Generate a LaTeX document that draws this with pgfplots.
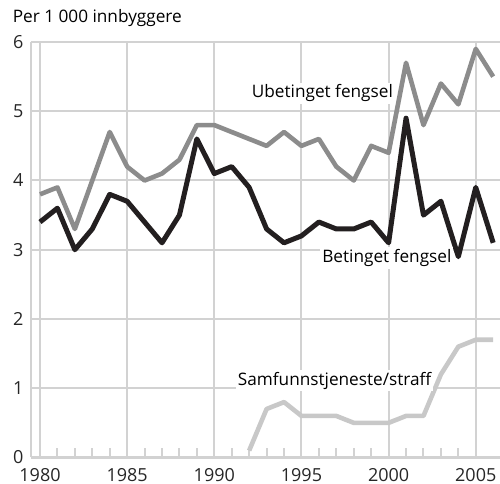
\documentclass[border=0pt]{standalone}
\usepackage{pgfplots}
\pgfplotsset{compat=1.18}
\usepackage{fontspec}
\setmainfont{Open Sans}
\definecolor{ubet}{HTML}{8C8C8C}
\definecolor{bet}{HTML}{231F20}
\definecolor{sam}{HTML}{C8C8C8}
\definecolor{gridc}{HTML}{D2D2D2}
\begin{document}
\fontsize{8.6}{10}\selectfont
\begin{tikzpicture}
\begin{axis}[
  scale only axis,
  width=234.5pt, height=207.75pt,
  xmin=1979.484, xmax=2006.39,
  ymin=0, ymax=6,
  axis x line*=bottom, axis y line*=left,
  axis line style={gridc, line width=1.2pt, -},
  xtick={1980,1985,1990,1995,2000,2005},
  ytick={0,1,2,3,4,5,6},
  minor x tick num=4,
  xmajorgrids, ymajorgrids,
  major grid style={gridc, line width=1pt},
  tick align=inside,
  major tick length=0pt,
  minor tick length=4.5pt,
  minor tick style={gridc, line width=1pt},
  xticklabel style={anchor=north, inner sep=0pt, yshift=-5.3pt},
  yticklabel style={anchor=east, inner sep=0pt, xshift=-3.6pt},
  /pgf/number format/assume math mode=true,
  /pgf/number format/1000 sep={},
  tick label style={font=\fontsize{9}{10}\selectfont, text=black!85},
  clip=false,
]
\addplot[ubet, line width=2.3pt, line join=round] coordinates {
(1980,3.8)(1981,3.9)(1982,3.3)(1983,4.0)(1984,4.7)(1985,4.2)(1986,4.0)(1987,4.1)(1988,4.3)(1989,4.8)(1990,4.8)(1991,4.7)(1992,4.6)(1993,4.5)(1994,4.7)(1995,4.5)(1996,4.6)(1997,4.2)(1998,4.0)(1999,4.5)(2000,4.4)(2001,5.7)(2002,4.8)(2003,5.4)(2004,5.1)(2005,5.9)(2006,5.5)};
\addplot[bet, line width=2.5pt, line join=round] coordinates {
(1980,3.4)(1981,3.6)(1982,3.0)(1983,3.3)(1984,3.8)(1985,3.7)(1986,3.4)(1987,3.1)(1988,3.5)(1989,4.6)(1990,4.1)(1991,4.2)(1992,3.9)(1993,3.3)(1994,3.1)(1995,3.2)(1996,3.4)(1997,3.3)(1998,3.3)(1999,3.4)(2000,3.1)(2001,4.9)(2002,3.5)(2003,3.7)(2004,2.9)(2005,3.9)(2006,3.1)};
\addplot[sam, line width=2.3pt, line join=round] coordinates {
(1992,0.1)(1993,0.7)(1994,0.8)(1995,0.6)(1996,0.6)(1997,0.6)(1998,0.5)(1999,0.5)(2000,0.5)(2001,0.6)(2002,0.6)(2003,1.2)(2004,1.6)(2005,1.7)(2006,1.7)};
\node[fill=white, inner sep=1pt] at (axis cs:1996.2,5.26) {Ubetinget fengsel};
\node[fill=white, inner sep=1pt] at (axis cs:1999.9,2.88) {Betinget fengsel};
\node[fill=white, inner sep=1pt] at (axis cs:1996.9,1.11) {Samfunnstjeneste/straff};
\node[anchor=base west, inner sep=0pt] at (rel axis cs:0,1) [xshift=-9.3pt, yshift=9.6pt] {Per 1 000 innbyggere};
\coordinate (bl) at (rel axis cs:0,0);
\coordinate (tr) at (rel axis cs:1,1);
\end{axis}
\pgfresetboundingbox
\path ([xshift=-15.5pt,yshift=-13.25pt]bl) rectangle ([yshift=21pt]tr);
\end{tikzpicture}
\end{document}
